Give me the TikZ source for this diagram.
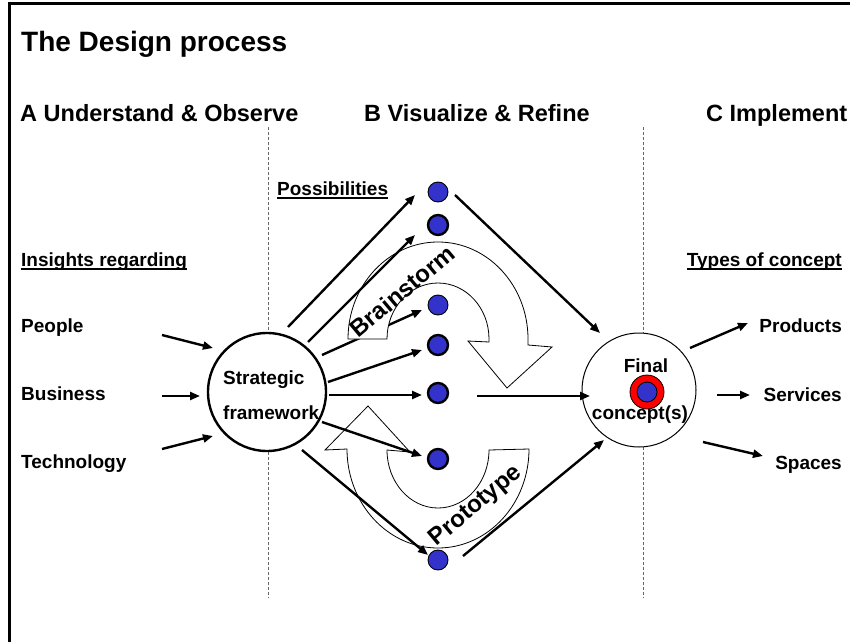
\documentclass[tikz,border=0pt]{standalone}
\usepackage{fontspec}
\setmainfont{Liberation Sans}
\usetikzlibrary{arrows.meta,calc}
\definecolor{dotblue}{RGB}{51,51,204}
\newsavebox\ulbox
\newcommand\undl[1]{\sbox\ulbox{#1}\rlap{\raisebox{-4pt}{\rule{\wd\ulbox}{1.8pt}}}\usebox\ulbox}
\begin{document}
\begin{tikzpicture}[x=1pt,y=-1pt,
  conn/.style={line width=2.4pt,-{Triangle[length=10pt,width=8pt]}},
  label/.style={font=\fontsize{19}{22}\selectfont\bfseries,inner sep=0pt},
  head/.style={font=\fontsize{23.5}{28}\selectfont\bfseries,inner sep=0pt},
  looptext/.style={font=\fontsize{24}{28}\selectfont\bfseries,inner sep=0pt,rotate=40},
  dot/.style={circle,fill=dotblue,draw=black,minimum size=20pt,inner sep=0pt},
  thickdot/.style={dot,line width=2.4pt},
  thindot/.style={dot,line width=0.9pt},
  guide/.style={black!60,line width=1pt,dash pattern=on 2.5pt off 2.5pt},
  loop/.style={draw=black,fill=white,line width=0.8pt,line join=miter}]
\useasboundingbox (0,0) rectangle (850,642);
\fill[white] (0,0) rectangle (850,642);
% frame
\draw[line width=2.8pt] (9.6,642) -- (9.6,3.5) -- (850,3.5);
% phase separators
\draw[guide] (268,127) -- (268,598);
\draw[guide] (643,127) -- (643,598);
% main circles
\node[circle,draw,fill=white,line width=2.4pt,minimum size=118pt,inner sep=0pt] (sf) at (267,392) {};
\node[circle,draw,fill=white,line width=1pt,minimum size=114pt,inner sep=0pt] (fc) at (639,390) {};
% possibilities
\node[thindot]  (p1) at (438,192) {};
\node[thickdot] (p2) at (438,225) {};
\node[thindot]  (p3) at (438,305) {};
\node[thickdot] (p4) at (438,345) {};
\node[thickdot] (p5) at (438,393) {};
\node[thickdot] (p6) at (438,459) {};
\node[thindot]  (p7) at (438,560) {};
% connector passing under the brainstorm loop
\draw[conn] ($(sf)+(55,-37)$) -- ($(p3)+(-16,5)$);
% brainstorm loop
\path[loop] (348,339) arc[start angle=180,end angle=360,x radius=90,y radius=97]
  -- (528,345) -- (552,347) -- (507,388) -- (468,341) -- (489,342) -- (489,339)
  arc[start angle=360,end angle=180,x radius=51,y radius=56] -- cycle;
\node[looptext] (bs) at (402,291) {Brainstorm};
% prototype loop
\path[loop] (529,449) arc[start angle=0,end angle=180,x radius=91,y radius=99]
  -- (325,450) -- (368,406) -- (410,452) -- (387,450)
  arc[start angle=180,end angle=0,x radius=51,y radius=58] -- cycle;
\node[looptext] (pt) at (476,506) {Prototype};
% from the strategic framework to the possibilities
\draw[conn] ($(sf)+(21,-65)$) -- ($(p1)+(-23,3)$);
\draw[conn] ($(sf)+(41,-50)$) -- ($(p2)+(-23,10)$);
\draw[conn] ($(sf)+(61,-10)$) -- ($(p4)+(-16,5)$);
\draw[conn] ($(sf)+(62,3)$) -- ($(p5)+(-16,2)$);
\draw[conn] ($(sf)+(55,30)$) -- ($(p6)+(-16,-3)$);
\draw[conn] ($(sf)+(35,58)$) -- ($(p7)+(-10,-5)$);
% from the possibilities to the final concept
\draw[conn] ($(p1)+(17,3)$) -- ($(fc)+(-39,-57)$);
\draw[conn] ($(p5)+(39,3)$) -- ($(fc)+(-49,6)$);
\draw[conn] ($(p7)+(25,-4)$) -- ($(fc)+(-35,50)$);
% insights feeding the framework
\coordinate (in1) at (162,335);
\coordinate (in2) at (162,396);
\coordinate (in3) at (162,449);
\draw[conn] (in1) -- ($(sf)+(-54,-44)$);
\draw[conn] (in2) -- ($(sf)+(-67,4)$);
\draw[conn] (in3) -- ($(sf)+(-54,44)$);
% concept types
\coordinate (out1) at (748,323);
\coordinate (out2) at (750,395);
\coordinate (out3) at (763,456);
\draw[conn] ($(fc)+(51,-42)$) -- (out1);
\draw[conn] ($(fc)+(78,5)$) -- (out2);
\draw[conn] ($(fc)+(64,52)$) -- (out3);
% final concept marker
\node[circle,draw,fill=red,line width=0.8pt,minimum size=34pt,inner sep=0pt] (ring) at (647,392) {};
\node[circle,draw,fill=dotblue,line width=0.8pt,minimum size=20pt,inner sep=0pt] (core) at (ring) {};
% texts
\node[anchor=base west,inner sep=0pt,font=\fontsize{28}{33}\selectfont\bfseries] (title) at (21,52) {The Design process};
\node[head,anchor=base west] (ha) at (20,121) {A Understand \& Observe};
\node[head,anchor=base west] (hb) at (364,121) {B Visualize \& Refine};
\node[head,anchor=base west] (hc) at (706,121) {C Implement};
\node[label,anchor=base west] (ins) at (21,266) {\undl{Insights regarding}};
\node[label,anchor=base west] (lp) at (21,332) {People};
\node[label,anchor=base west] (lb) at (21,400) {Business};
\node[label,anchor=base west] (lt) at (21,468) {Technology};
\node[label,anchor=base west] (pos) at (277,195) {\undl{Possibilities}};
\node[label,anchor=base east] (toc) at (842,266) {\undl{Types of concept}};
\node[label,anchor=base east] (lpr) at (842,332) {Products};
\node[label,anchor=base east] (lse) at (842,401) {Services};
\node[label,anchor=base east] (lsp) at (842,469) {Spaces};
\node[label,anchor=base west] (sf1) at (223,384) {Strategic};
\node[label,anchor=base west] (sf2) at (223,419) {framework};
\node[label,anchor=base] (fc1) at (646,372) {Final};
\node[label,anchor=base] (fc2) at (640,419) {concept(s)};
\end{tikzpicture}
\end{document}
